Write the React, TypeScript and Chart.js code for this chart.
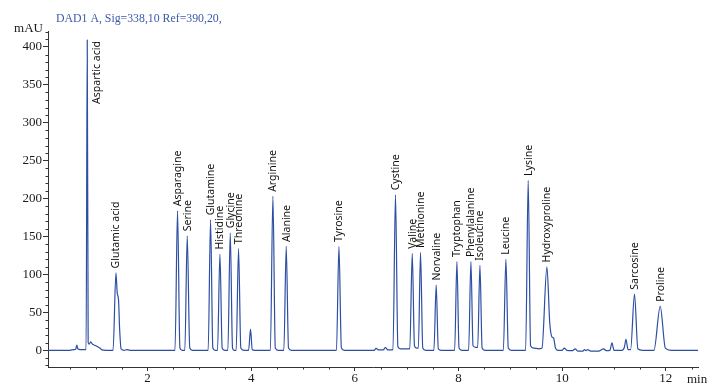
import React, { useEffect, useRef } from "react";
import { Chart, registerables } from "chart.js";

Chart.register(...registerables);

const titleText = "DAD1 A, Sig=338,10 Ref=390,20,";
const yUnit = "mAU";
const xUnit = "min";

const traceTimes = [
  0.08, 0.5, 0.58, 0.615, 0.635, 0.655, 0.7, 0.815, 0.837, 0.855, 0.875, 0.905, 0.94, 0.97, 1.03, 1.08, 1.12, 1.2,
  1.335, 1.391, 1.415, 1.441, 1.462, 1.49, 1.55, 1.6, 1.66,
  2.53, 2.579, 2.625, 2.67, 2.72, 2.766, 2.815, 2.87,
  3.17, 3.216, 3.26, 3.305, 3.35, 3.397, 3.44, 3.49, 3.55, 3.596, 3.64, 3.67, 3.71, 3.756, 3.8, 3.86,
  3.95, 3.987, 4.02, 4.07, 4.37, 4.419, 4.465, 4.52, 4.63, 4.676, 4.72, 4.78,
  5.645, 5.693, 5.74, 5.8, 6.37, 6.41, 6.46, 6.55, 6.59, 6.635, 6.735, 6.784, 6.83, 6.88,
  7.06, 7.107, 7.15, 7.19, 7.225, 7.267, 7.31, 7.37, 7.525, 7.569, 7.61, 7.67,
  7.925, 7.969, 8.01, 8.07, 8.195, 8.239, 8.28, 8.33, 8.37, 8.413, 8.455, 8.51,
  8.865, 8.914, 8.96, 9.02, 9.295, 9.344, 9.39, 9.45, 9.55, 9.61, 9.705, 9.76, 9.8, 9.835, 9.87, 9.92,
  10.0, 10.04, 10.09, 10.2, 10.25, 10.3, 10.4, 10.43, 10.46, 10.49, 10.55, 10.7, 10.8, 10.85, 10.92, 10.96, 11.0,
  11.15, 11.2, 11.23, 11.27, 11.32, 11.395, 11.46, 11.55, 11.77, 11.891, 11.99, 12.1, 12.62,
];

const traceValues = [
  0, 0, 1, 1.5, 7, 2, 1, 1, 409, 10, 8, 11, 8, 7, 5, 3, 0.5, 0,
  0, 102, 76, 66, 28, 2, 0, 1, 0,
  0, 184, 3, 0, 0, 151, 3, 0,
  0, 172, 3, 0, 0, 127, 3, 0, 0, 155, 3, 0, 0, 134, 3, 0,
  0, 28, 1, 0, 0, 203, 3, 0, 0, 137, 3, 0,
  0, 137, 3, 0, 0, 2.5, 0.5, 0.5, 4, 0.5, 0.5, 205, 5, 2,
  2, 128, 6, 3, 3, 129, 3, 0, 0, 86, 2, 0,
  0, 117, 3, 0, 0, 117, 6, 4, 4, 112, 3, 0,
  0, 120, 3, 0, 0, 224, 6, 3, 2, 3, 110, 36, 18, 16, 3, 0,
  0, 3, 0, -0.5, 2, -1, -1, 1, -0.5, 1, -1, -1, 2, -0.5, 0, 10, 0,
  0, 4, 14.5, 1, 1, 74, 2, 0, 0, 58, 3, 0, 0,
];

const peakNames = [
  "Aspartic acid", "Glutamic acid", "Asparagine", "Serine", "Glutamine", "Histidine", "Glycine", "Threonine",
  "Arginine", "Alanine", "Tyrosine", "Cystine", "Valine", "Methionine", "Norvaline", "Tryptophan",
  "Phenylalanine", "Isoleucine", "Leucine", "Lysine", "Hydroxyproline", "Sarcosine", "Proline",
];
const peakTimes = [
  0.837, 1.391, 2.579, 2.766, 3.216, 3.397, 3.596, 3.756, 4.419, 4.676, 5.693, 6.784, 7.107, 7.267, 7.569, 7.969,
  8.239, 8.413, 8.914, 9.344, 9.705, 11.395, 11.891,
];
const peakHeights = [
  409, 102, 184, 151, 172, 127, 155, 134, 203, 137, 137, 205, 128, 129, 86, 117, 117, 112, 120, 224, 110, 74, 58,
];

const xMin = 0.08;
const xMax = 12.62;
const yMin = -22;
const yMax = 421;
const xMajorStep = 2;
const xMinorStep = 0.5;
const yMajorStep = 50;
const yMinorStep = 10;

const AXIS_COLOR = "#333333";
const TEXT_COLOR = "#1a1a1a";
const LINE_COLOR = "#2d4ea2";
const TITLE_COLOR = "#3d5aa9";
const SERIF = "'Liberation Serif', 'Times New Roman', serif";
const SANS = "'Noto Sans', 'Open Sans', sans-serif";

const decorPlugin = {
  id: "decor",
  afterDraw(chart: any) {
    const { ctx, chartArea, scales } = chart;
    const xs = scales.x;
    const ys = scales.y;
    ctx.save();
    ctx.strokeStyle = AXIS_COLOR;
    ctx.lineWidth = 1;
    // minor y ticks
    ctx.beginPath();
    for (let v = Math.ceil(yMin / yMinorStep) * yMinorStep; v <= yMax; v += yMinorStep) {
      if (Math.abs(v % yMajorStep) < 1e-6) continue;
      const py = Math.round(ys.getPixelForValue(v)) + 0.5;
      ctx.moveTo(chartArea.left - 2.5, py);
      ctx.lineTo(chartArea.left, py);
    }
    // minor x ticks
    for (let i = Math.ceil(xMin / xMinorStep); i * xMinorStep <= xMax; i++) {
      const v = i * xMinorStep;
      if (Math.abs(v % xMajorStep) < 1e-6) continue;
      const px = Math.round(xs.getPixelForValue(v)) + 0.5;
      ctx.moveTo(px, chartArea.bottom);
      ctx.lineTo(px, chartArea.bottom + 2.5);
    }
    ctx.stroke();

    // title
    ctx.fillStyle = TITLE_COLOR;
    ctx.font = `11.8px ${SERIF}`;
    ctx.textAlign = "left";
    ctx.textBaseline = "alphabetic";
    ctx.fillText(titleText, 56, 21.5);

    // units
    ctx.fillStyle = TEXT_COLOR;
    ctx.font = `13px ${SERIF}`;
    ctx.textAlign = "right";
    ctx.fillText(yUnit, 43, 32);
    ctx.textAlign = "left";
    ctx.fillText(xUnit, 687, 383);

    // peak labels
    ctx.font = `10.5px ${SANS}`;
    ctx.fillStyle = "#111111";
    ctx.textBaseline = "middle";
    ctx.textAlign = "left";
    peakNames.forEach((name, i) => {
      const px = xs.getPixelForValue(peakTimes[i]);
      const py = ys.getPixelForValue(peakHeights[i]);
      const w = ctx.measureText(name).width;
      ctx.save();
      if (py - 4 - w < chartArea.top) {
        ctx.translate(px + 9.5, py + w + 1);
      } else {
        ctx.translate(px + 0.5, py - 4.5);
      }
      ctx.rotate(-Math.PI / 2);
      ctx.fillText(name, 0, 0);
      ctx.restore();
    });
    ctx.restore();
  },
};

export default function App() {
  const canvasRef = useRef<HTMLCanvasElement | null>(null);

  useEffect(() => {
    const canvas = canvasRef.current;
    if (!canvas) return;
    const data = traceTimes.map((t, i) => ({ x: t, y: traceValues[i] }));
    const chart = new Chart(canvas, {
      type: "line",
      data: {
        datasets: [
          {
            data,
            borderColor: LINE_COLOR,
            borderWidth: 1.2,
            pointRadius: 0,
            fill: false,
            cubicInterpolationMode: "monotone",
          },
        ],
      },
      options: {
        responsive: false,
        devicePixelRatio: 1,
        animation: false,
        layout: { padding: { top: 31, right: 12, left: 0, bottom: 0 } },
        plugins: {
          legend: { display: false },
          tooltip: { enabled: false },
          title: { display: false },
        },
        scales: {
          x: {
            type: "linear",
            min: xMin,
            max: xMax,
            afterFit: (s: any) => {
              s.height = 17;
            },
            ticks: {
              stepSize: xMajorStep,
              includeBounds: false,
              autoSkip: false,
              maxRotation: 0,
              padding: 0,
              color: TEXT_COLOR,
              font: { family: SERIF, size: 13 },
            },
            grid: { drawOnChartArea: false, drawTicks: true, tickLength: 4, color: AXIS_COLOR },
            border: { display: true, color: AXIS_COLOR, width: 1 },
          },
          y: {
            type: "linear",
            min: yMin,
            max: yMax,
            afterFit: (s: any) => {
              s.width = 48;
            },
            ticks: {
              stepSize: yMajorStep,
              includeBounds: false,
              padding: 1,
              color: TEXT_COLOR,
              font: { family: SERIF, size: 13 },
            },
            grid: { drawOnChartArea: false, drawTicks: true, tickLength: 5, color: AXIS_COLOR },
            border: { display: true, color: AXIS_COLOR, width: 1 },
          },
        },
      },
      plugins: [decorPlugin],
    });
    return () => chart.destroy();
  }, []);

  return (
    <div style={{ position: "fixed", left: 0, top: 0, width: 710, height: 384, background: "#ffffff" }}>
      <canvas ref={canvasRef} width={710} height={384} />
    </div>
  );
}
